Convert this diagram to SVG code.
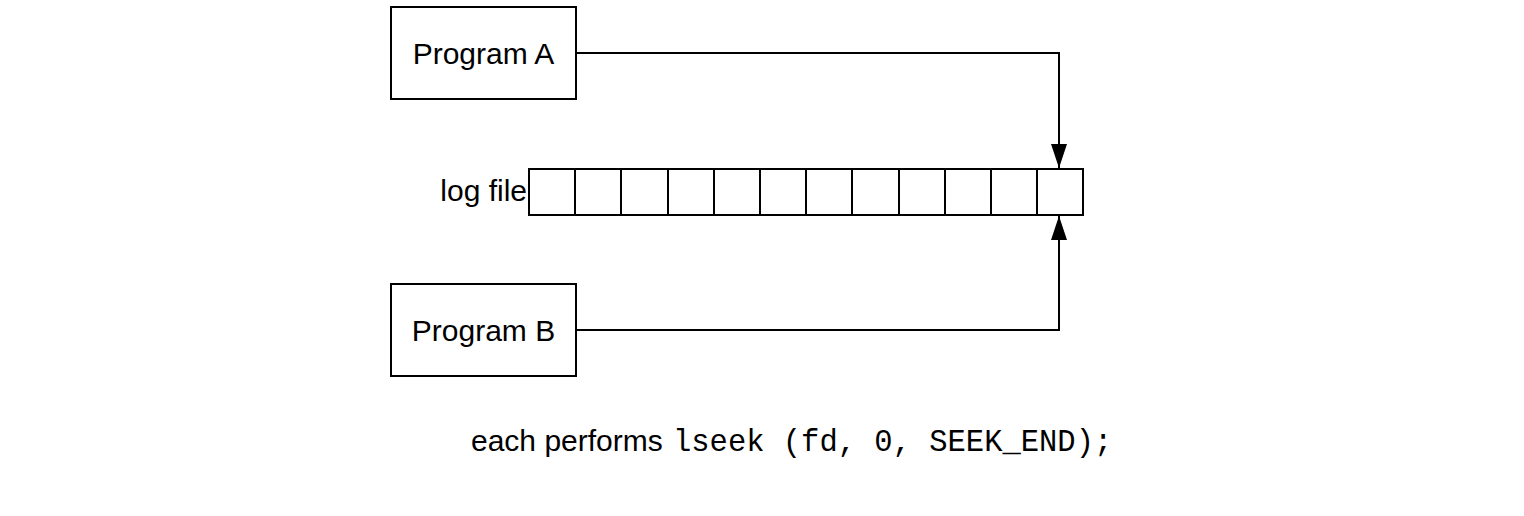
<svg xmlns="http://www.w3.org/2000/svg" width="1524" height="516" viewBox="0 0 1524 516">
<style>
.box{fill:#fff;stroke:#000;stroke-width:2}
.cell{fill:none;stroke:#000;stroke-width:2}
.lbl{font-family:"Liberation Sans",Arial,sans-serif;font-size:30px;fill:#000}
.mono{font-family:"Liberation Mono","Courier New",monospace;font-size:30.5px;fill:#000}
.conn{fill:none;stroke:#000;stroke-width:2}
</style>
<defs>
<marker id="arr" viewBox="0 0 24 16" refX="24" refY="8" markerWidth="24" markerHeight="16" markerUnits="userSpaceOnUse" orient="auto">
<path d="M0,0 L24,8 L0,16 Z" fill="#000"/>
</marker>
</defs>
<rect width="1524" height="516" fill="#fff"/>
<g id="programA">
<rect class="box" x="391" y="7" width="185" height="92"/>
<text class="lbl" x="483.5" y="64" text-anchor="middle">Program A</text>
</g>
<g id="programB">
<rect class="box" x="391" y="284" width="185" height="92"/>
<text class="lbl" x="483.5" y="341" text-anchor="middle">Program B</text>
</g>
<g id="logfile">
<text class="lbl" x="527" y="201" text-anchor="end">log file</text>
<rect class="cell" x="529" y="169" width="554" height="46"/>
<path class="cell" d="M575,169V215M621,169V215M668,169V215M714,169V215M760,169V215M806,169V215M852,169V215M899,169V215M945,169V215M991,169V215M1037,169V215"/>
</g>
<g id="connectors">
<path class="conn" d="M576,53H1059V168" marker-end="url(#arr)"/>
<path class="conn" d="M576,330H1059V216" marker-end="url(#arr)"/>
</g>
<g id="caption">
<text class="lbl" x="471" y="451">each performs</text>
<text class="mono" x="673" y="451">lseek (fd, 0, SEEK_END);</text>
</g>
</svg>
